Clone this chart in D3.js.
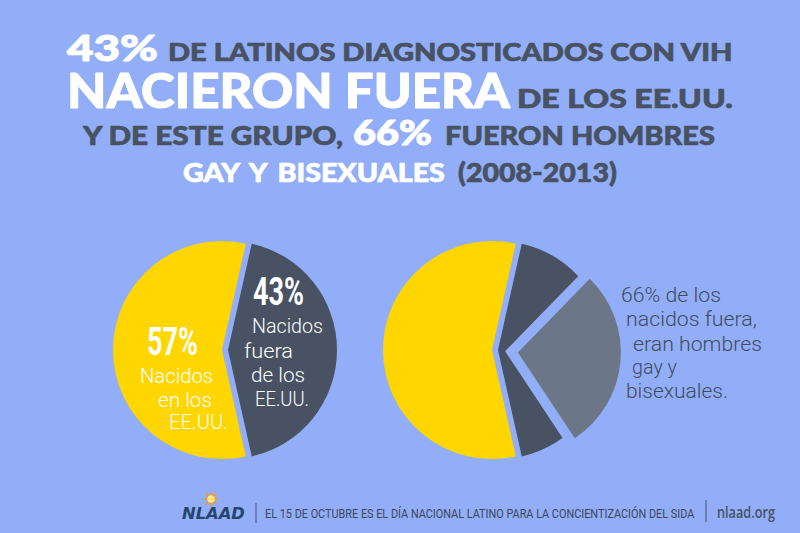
<!DOCTYPE html>
<html><head><meta charset="utf-8">
<script src="https://cdn.jsdelivr.net/npm/d3@7"></script>
<style>html,body{margin:0;padding:0;background:#92AEF9;} svg{display:block}</style>
</head><body>
<script>
// ---------- DATA ----------
const bornShares = [
  {label: "Nacidos en los EE.UU.", value: 57},
  {label: "Nacidos fuera de los EE.UU.", value: 43}
];
// Breakdown of the 43% born outside (66% gay/bisexual men), split around the exploded slice
const outsideBreakdown = [
  {label: "Otros (arriba)", value: 8.8},
  {label: "Hombres gay y bisexuales", value: 28.38},
  {label: "Otros (abajo)", value: 5.82}
];
const titleLine1 = ["43%", "DE LATINOS DIAGNOSTICADOS CON VIH"];
const titleLine2 = ["NACIERON FUERA", "DE LOS EE.UU."];
const titleLine3 = ["Y DE ESTE GRUPO,", "66%", "FUERON HOMBRES"];
const titleLine4 = ["GAY Y BISEXUALES", "(2008-2013)"];
const bornInLabel = ["57%", "Nacidos", "en los", "EE.UU."];
const bornOutLabel = ["43%", "Nacidos", "fuera", "de los", "EE.UU."];
const gayLabel = ["66% de los", "nacidos fuera,", "eran hombres", "gay y", "bisexuales."];
const logoText = "NLAAD";
const footerText = "EL 15 DE OCTUBRE ES EL DÍA NACIONAL LATINO PARA LA CONCIENTIZACIÓN DEL SIDA";
const footerUrl = "nlaad.org";

// ---------- STYLE ----------
const W = 800, H = 533;
const BG = "#92AEF9", WHITE = "#FFFFFF", DARK = "#485263", YELLOW = "#FFD600", GRAY = "#6B7786";
const TITLE_FONT = "Lato, 'Open Sans', sans-serif";
const COND_FONT = "'Liberation Sans Narrow', 'Roboto', sans-serif";
const LIGHT_FONT = "Roboto, 'Liberation Sans Narrow', sans-serif";

const svg = d3.select("body").append("svg").attr("width", W).attr("height", H);
svg.append("rect").attr("width", W).attr("height", H).attr("fill", BG);

// Text placed at (x, baseline y) and horizontally scaled to width w
function txt(g, s, x, y, w, size, color, family, weight, extra) {
  const t = g.append("text").attr("x", 0).attr("y", 0).text(s)
    .attr("font-family", family).attr("font-size", size).attr("font-weight", weight || "normal")
    .attr("fill", color);
  if (extra) extra(t);
  let sx = 1;
  if (w) {
    const nat = t.node().getComputedTextLength();
    if (nat > 0) sx = w / nat;
  }
  t.attr("transform", `translate(${x},${y}) scale(${sx},1)`);
  return t;
}

// ---------- TITLE ----------
const tg = svg.append("g");
const titleLayout = [
  [titleLine1, [[67, 61, 91, 37, WHITE, 0], [168, 61, 565, 24, DARK, 0]]],
  [titleLine2, [[67, 108, 443, 47, WHITE, 0], [517, 108, 216, 26, DARK, 0]]],
  [titleLine3, [[83, 145, 260, 27, DARK, 0], [353, 145, 79, 34, WHITE, 0], [445, 145, 270, 27, DARK, 0]]],
  [titleLine4, [[183, 182, 262, 27, WHITE, 4], [458, 182, 159, 27, DARK, 0]]]
];
titleLayout.forEach(([segs, lay]) => {
  segs.forEach((s, i) => {
    const [x, y, w, size, c, ws] = lay[i];
    txt(tg, s, x, y, w, size, c, TITLE_FONT, 900,
      t => t.attr("stroke", c).attr("stroke-width", size > 30 ? 1 : 0.7).attr("stroke-linejoin", "round")
            .style("word-spacing", ws + "px"));
  });
});

// ---------- PIES ----------
const R = 109;
const start = Math.PI * (1.5 - bornShares[0].value / 100);
const pie = d3.pie().sort(null).value(d => d.value).startAngle(start).endAngle(start + 2 * Math.PI);
const arcs = pie(bornShares);
const arc = d3.arc().innerRadius(0).outerRadius(R);
const colors = [YELLOW, DARK];
const offsets = [0, 6];

function offsetOf(a, d) {
  const m = (a.startAngle + a.endAngle) / 2;
  return [d * Math.sin(m), -d * Math.cos(m)];
}

function drawBase(cx, cy) {
  const g = svg.append("g").attr("transform", `translate(${cx},${cy})`);
  g.selectAll("path").data(arcs).join("path")
    .attr("d", arc)
    .attr("fill", (d, i) => colors[i])
    .attr("transform", (d, i) => { const o = offsetOf(d, offsets[i]); return `translate(${o[0]},${o[1]})`; });
  return g;
}

// Left pie
drawBase(222, 350);
const lg = svg.append("g");
txt(lg, bornInLabel[0], 147, 355, 51, 38, WHITE, COND_FONT, "bold");
txt(lg, bornInLabel[1], 140, 383, 73, 21, WHITE, LIGHT_FONT, 300);
txt(lg, bornInLabel[2], 158, 407, 54, 21, WHITE, LIGHT_FONT, 300);
txt(lg, bornInLabel[3], 169, 429, 59, 21, WHITE, LIGHT_FONT, 300);
txt(lg, bornOutLabel[0], 253, 305, 51, 38, WHITE, COND_FONT, "bold");
txt(lg, bornOutLabel[1], 252, 333, 71, 21, WHITE, LIGHT_FONT, 300);
txt(lg, bornOutLabel[2], 244, 358, 49, 21, WHITE, LIGHT_FONT, 300);
txt(lg, bornOutLabel[3], 251, 382, 54, 21, WHITE, LIGHT_FONT, 300);
txt(lg, bornOutLabel[4], 255, 406, 54, 21, WHITE, LIGHT_FONT, 300);

// Right pie
const rp = drawBase(492, 350);
const darkArc = arcs[1];
const subPie = d3.pie().sort(null).value(d => d.value)
  .startAngle(darkArc.startAngle).endAngle(darkArc.endAngle);
const subArcs = subPie(outsideBreakdown);
const gayArc = subArcs[1];
const gArcGen = d3.arc().innerRadius(0).outerRadius(103);
const go = offsetOf(gayArc, 26);
rp.append("path").datum(gayArc)
  .attr("d", gArcGen)
  .attr("transform", `translate(${go[0]},${go[1]})`)
  .attr("fill", GRAY)
  .attr("stroke", BG).attr("stroke-width", 20).attr("stroke-linejoin", "miter")
  .style("paint-order", "stroke");

const rg = svg.append("g");
const gl = [[621, 302, 100], [626, 326, 131], [633, 351, 129], [632, 374, 45], [626, 398, 102]];
gayLabel.forEach((s, i) => txt(rg, s, gl[i][0], gl[i][1], gl[i][2], 21, "#414B5B", LIGHT_FONT, 300));

// ---------- FOOTER ----------
const fg = svg.append("g");
const sun = fg.append("g").attr("transform", "translate(211,499)");
const rays = d3.range(16).map(i => {
  const a = i * Math.PI / 8;
  const r = i % 2 === 0 ? 9 : 3.5;
  return [r * Math.sin(a), -r * Math.cos(a)];
});
sun.append("polygon").attr("points", rays.map(p => p.join(",")).join(" ")).attr("fill", "#F7941D");
sun.append("circle").attr("r", 3.8).attr("fill", "#FFE680");
txt(fg, logoText, 182, 519, 63, 16, "#24466B", "'DejaVu Sans', sans-serif", "bold", t => t.attr("font-style", "italic"));
fg.append("line").attr("x1", 256).attr("x2", 256).attr("y1", 503).attr("y2", 523).attr("stroke", DARK).attr("stroke-width", 1);
txt(fg, footerText, 265, 518, 430, 13, "#3C4656", COND_FONT, "normal");
fg.append("line").attr("x1", 706).attr("x2", 706).attr("y1", 500).attr("y2", 522).attr("stroke", DARK).attr("stroke-width", 1);
txt(fg, footerUrl, 717, 518, 58, 17, DARK, "'Open Sans', sans-serif", "600");
</script>
</body></html>
